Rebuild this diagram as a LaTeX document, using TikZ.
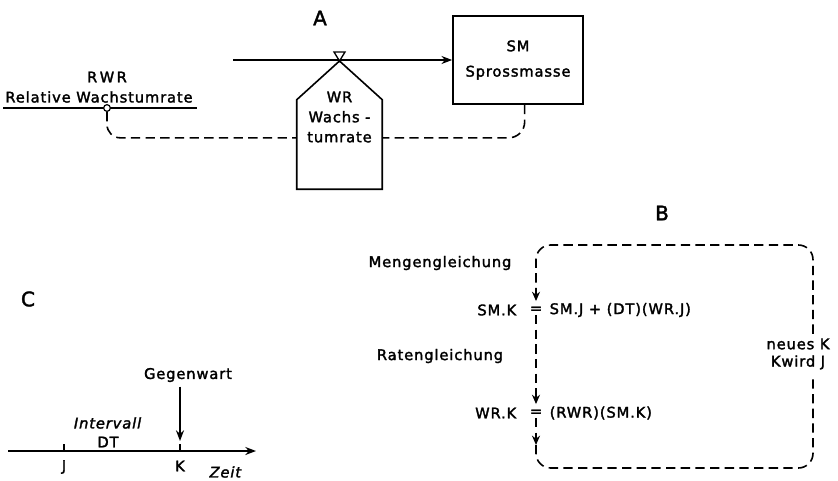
\documentclass[tikz,border=0pt]{standalone}
\usepackage{fontspec}
\setmainfont[LetterSpace=6, FakeBold=2]{DejaVu Sans}
\usetikzlibrary{shapes, arrows, arrows.meta}
\usetikzlibrary{positioning}
\usetikzlibrary{calc}
\tikzstyle{stock} = [rectangle, minimum width=97.5pt, minimum height=66pt, text centered, draw=black, line width=1.3pt, align=center, font=\fontsize{11}{19}\selectfont]
\tikzstyle{panel} = [font=\fontsize{15}{17}\selectfont]
\tikzstyle{plain} = [line width=1.2pt]
\tikzstyle{arrow} = [line width=1.2pt, -{Stealth[length=8pt, width=6pt]}]
\tikzstyle{info} = [line width=1.2pt, dash pattern=on 7pt off 4pt]
\tikzstyle{cyc} = [line width=1.2pt, dash pattern=on 7pt off 4pt]
\tikzstyle{cycarrow} = [cyc, -{Stealth[length=7pt, width=6pt]}]

\begin{document}
\begin{tikzpicture}[x=0.75pt, y=-0.75pt, font=\fontsize{11}{13}\selectfont]
    \useasboundingbox (0,0) rectangle (838,481);

    % Nodes
    \node (capA) [panel] at (320,18) {A};
    \node (capB) [panel] at (662,213) {B};
    \node (capC) [panel] at (28,299) {C};

    % A: Flussdiagramm
    \node (rwr) at (107,77) {R\,W\,R};
    \node (rwrname) at (99,97) {Relative Wachstumrate};
    \coordinate (rwrl) at (3,108);
    \coordinate (rwrr) at (197,108);
    \draw [plain] (rwrl) -- (rwrr);
    \node (rwrpt) [circle, draw, fill=white, inner sep=0pt, minimum size=5pt, line width=0.9pt] at (107,108) {};

    \node (sm) [stock] at (518,60) {SM\\Sprossmasse};
    \coordinate (src) at (233,60);
    \node (wrbody) [minimum width=63.75pt, minimum height=66.75pt, inner sep=0pt] at (339.5,144.5) {};
    \coordinate (apex) at (339.5,61);
    \node (wr) [align=center, font=\fontsize{11}{15}\selectfont] at (339.5,117) {WR\\Wachs -\\tumrate};

    \draw [arrow] (src) -- (sm.west);
    \draw [plain] (wrbody.south west) -- (wrbody.north west) -- (apex) -- (wrbody.north east) -- (wrbody.south east) -- cycle;
    \draw [plain, line width=1pt, fill=white] (apex) -- ++(-5.5,-9) -- ++(11,0) -- cycle;
    \draw [info, rounded corners=10pt] (rwrpt.south) |- ([yshift=5pt]wrbody.west);
    \draw [info, rounded corners=12pt] ([xshift=5pt]sm.south) |- ([yshift=5pt]wrbody.east);

    % C: Zeitachse
    \coordinate (ax0) at (8,451);
    \coordinate (ax1) at (256,451);
    \coordinate (jt) at (64,451);
    \coordinate (kt) at (180,451);
    \node (j) at (64,467) {J};
    \node (k) at (180,466) {K};
    \node (zeit) at (226,472) {\textit{Zeit}};
    \node (intv) at (108,423) {\textit{Intervall}};
    \node (dt) at (108,442) {DT};
    \node (now) at (188,375) {Gegenwart};

    \draw [arrow] (ax0) -- (ax1);
    \draw [plain] (jt) -- ++(0,-7);
    \draw [plain] (kt) -- ++(0,-7);
    \draw [arrow] (now.south -| kt) -- ([yshift=7.5pt]kt);

    % B: Gleichungen
    \node (mgl) at (440,263) {Mengengleichung};
    \node (rgl) at (440,356) {Ratengleichung};
    \node (smk) [anchor=east] at (521,310) {SM.K};
    \node (eq1) [inner sep=1pt] at (536,310) {=};
    \node (smrhs) [anchor=west] at (545,310) {SM.J + (DT)(WR.J)};
    \node (wrk) [anchor=east] at (521,413) {WR.K};
    \node (eq2) [inner sep=1pt] at (536,413) {=};
    \node (wrrhs) [anchor=west] at (545,413) {(RWR)(SM.K)};
    \node (newk) [align=center] at (798,354) {neues K\\Kwird J};
    \coordinate (tl) at (536,245);
    \coordinate (tr) at (813,245);
    \coordinate (br) at (813,468);
    \coordinate (bl) at (536,468);
    \coordinate (cr) at (536,445);

    \draw [cycarrow, rounded corners=11pt, shorten >=3pt] (br |- newk.north) -- (tr) -- (tl) -- (eq1.north);
    \draw [cycarrow, shorten >=3pt] (eq1.south) -- (eq2.north);
    \draw [cycarrow] (eq2.south) -- (cr);
    \draw [cyc, rounded corners=11pt] (cr) -- (bl) -- (br) -- (br |- newk.south);

\end{tikzpicture}
\end{document}
